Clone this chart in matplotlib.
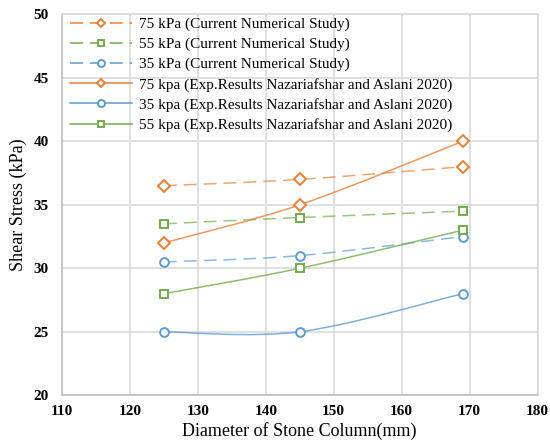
import numpy as np
import matplotlib
matplotlib.use("Agg")
import matplotlib.pyplot as plt
from matplotlib.path import Path
from matplotlib.patches import PathPatch
from matplotlib.lines import Line2D

plt.rcParams['font.family'] = ['Liberation Serif', 'DejaVu Serif']

diameters = [125, 145, 169]
num_75 = [36.5, 37.0, 38.0]
num_55 = [33.5, 34.0, 34.5]
num_35 = [30.5, 31.0, 32.5]
exp_75 = [32.0, 35.0, 40.0]
exp_35 = [25.0, 25.0, 28.0]
exp_55 = [28.0, 30.0, 33.0]

labels = [
    "75 kPa (Current Numerical Study)",
    "55 kPa (Current Numerical Study)",
    "35 kPa (Current Numerical Study)",
    "75 kpa (Exp.Results Nazariafshar and Aslani 2020)",
    "35 kpa (Exp.Results Nazariafshar and Aslani 2020)",
    "55 kpa (Exp.Results Nazariafshar and Aslani 2020)",
]

ORANGE = "#ED7D31"
GREEN = "#70AD47"
BLUE = "#5B9BD5"

series = [
    (num_75, ORANGE, 'D', 'dashed'),
    (num_55, GREEN, 's', 'dashed'),
    (num_35, BLUE, 'o', 'dashed'),
    (exp_75, ORANGE, 'D', 'solid'),
    (exp_35, BLUE, 'o', 'solid'),
    (exp_55, GREEN, 's', 'solid'),
]

fig = plt.figure(figsize=(5.5, 4.48), dpi=100)
ax = fig.add_axes([62 / 550, 1 - 395.3 / 448, 475.5 / 550, 381 / 448])

DASH = (0, (8.5, 4.5))
LW = 1.1


def smooth_path(xs, ys):
    # Excel-style smoothed line: cubic Bezier segments (Catmull-Rom control points)
    pts = np.column_stack([xs, ys]).astype(float)
    n = len(pts)
    verts = [pts[0]]
    codes = [Path.MOVETO]
    for i in range(n - 1):
        p0 = pts[i - 1] if i > 0 else pts[i]
        p1 = pts[i]
        p2 = pts[i + 1]
        p3 = pts[i + 2] if i + 2 < n else pts[i + 1]
        c1 = p1 + (p2 - p0) / 6.0
        c2 = p2 - (p3 - p1) / 6.0
        verts += [c1, c2, p2]
        codes += [Path.CURVE4] * 3
    return Path(verts, codes)


handles = []
for (vals, col, mk, ls), lab in zip(series, labels):
    linestyle = DASH if ls == 'dashed' else '-'
    alpha = 0.7 if ls == 'dashed' else 0.8
    patch = PathPatch(smooth_path(diameters, vals), facecolor='none', edgecolor=col,
                      lw=LW, linestyle=linestyle, alpha=alpha, zorder=3)
    ax.add_patch(patch)
    ms = 6.0 if mk == 'D' else 6.3
    ax.plot(diameters, vals, linestyle='none', marker=mk, markersize=ms,
            markerfacecolor='white', markeredgecolor=col, markeredgewidth=1.4, zorder=4)
    lms = 4.2 if mk == 'D' else 5.0
    handles.append(Line2D([], [], color=col, lw=LW, linestyle=linestyle, marker=mk,
                          markersize=lms, markerfacecolor='white', markeredgecolor=col,
                          markeredgewidth=1.4, alpha=1.0, label=lab))

ax.set_xlim(110, 180)
ax.set_ylim(20, 50)
ax.set_xticks(np.arange(110, 181, 10))
ax.set_yticks(np.arange(20, 51, 5))
ax.grid(True, color='#D9D9D9', lw=1.2, zorder=0)
ax.set_axisbelow(True)
for s in ax.spines.values():
    s.set_color('#D9D9D9')
    s.set_linewidth(1.2)
ax.spines['left'].set_color('#BFBFBF')
ax.spines['bottom'].set_color('#BFBFBF')
ax.tick_params(length=0, labelsize=11)
ax.tick_params(axis='x', pad=7)
ax.tick_params(axis='y', pad=9.5)
for t in ax.get_xticklabels() + ax.get_yticklabels():
    t.set_fontweight('bold')

ax.set_xlabel("Diameter of Stone Column(mm)", fontsize=13, labelpad=3)
ax.set_ylabel("Shear Stress (kPa)", fontsize=13, labelpad=5)

leg = ax.legend(handles=handles, labels=labels, loc='upper left', frameon=False, fontsize=11,
                handlelength=4.1, handletextpad=0.45, labelspacing=0.41,
                borderaxespad=0.0, bbox_to_anchor=(0.003, 1.008))

fig.savefig("out.png", dpi=100)
